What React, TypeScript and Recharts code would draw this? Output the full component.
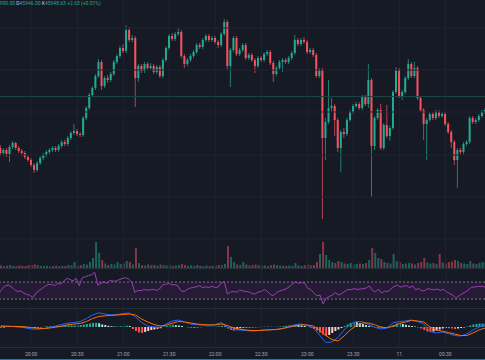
import {
  ComposedChart,
  Bar,
  Line,
  XAxis,
  YAxis,
  ReferenceLine,
  ReferenceArea,
  Cell,
} from "recharts";

// 2-minute candles, first one at 19:40 (t = minutes after 19:00)
const startMinute = 40;
const stepMinutes = 2;
const slotCount = 163; // a few empty slots past the right edge, like the live chart

const opens = [
  45912, 45907, 45910, 45906, 45913, 45917, 45912, 45909, 45907, 45903,
  45900, 45895, 45890, 45897, 45902, 45905, 45908, 45910, 45912, 45910,
  45914, 45918, 45916, 45922, 45927, 45929, 45926, 45925, 45942, 45952,
  45965, 45972, 45984, 45998, 45974, 45982, 45980, 45986, 45998, 46004,
  46012, 46009, 46030, 46020, 46022, 45982, 45994, 45989, 45996, 45992,
  45994, 45988, 45993, 45984, 46000, 46012, 46024, 46021, 46026, 46028,
  46004, 45996, 46000, 46004, 46008, 46015, 46013, 46020, 46024, 46020,
  46022, 46018, 46015, 46026, 46038, 45994, 46010, 46022, 46006, 46010,
  46015, 46002, 46005, 46000, 45994, 46002, 46000, 46006, 46008, 45997,
  45986, 45992, 45998, 46000, 45998, 46002, 46007, 46020, 46016, 46020,
  46018, 46008, 46010, 46005, 45984, 45990, 45922, 45938, 45952, 45954,
  45940, 45912, 45928, 45926, 45940, 45948, 45954, 45956, 45952, 45963,
  45956, 45980, 45914, 45942, 45950, 45912, 45935, 45924, 45932, 45968,
  45990, 45964, 45968, 45982, 45996, 45984, 45992, 45962, 45950, 45936,
  45940, 45946, 45942, 45948, 45944, 45946, 45936, 45928, 45918, 45900,
  45910, 45908, 45916, 45918, 45942, 45938, 45940, 45944, 45948,
];

const highs = [
  45915, 45912, 45912, 45915, 45919, 45918, 45914, 45911, 45909, 45905,
  45902, 45897, 45899, 45904, 45907, 45910, 45912, 45914, 45914, 45916,
  45920, 45920, 45924, 45929, 45936, 45931, 45928, 45944, 45954, 45967,
  45974, 45986, 46001, 46000, 45984, 45985, 45988, 46000, 46006, 46014,
  46016, 46035, 46033, 46025, 46024, 45996, 45996, 45998, 45998, 45997,
  45996, 45995, 45995, 46002, 46014, 46026, 46027, 46028, 46032, 46030,
  46006, 46002, 46006, 46010, 46017, 46017, 46022, 46026, 46026, 46024,
  46024, 46020, 46028, 46041, 46040, 46012, 46024, 46024, 46012, 46017,
  46017, 46007, 46007, 46002, 46004, 46004, 46008, 46010, 46010, 45999,
  45994, 46000, 46002, 46002, 46004, 46009, 46025, 46022, 46022, 46023,
  46020, 46012, 46012, 46007, 45992, 45992, 45942, 45980, 45962, 45956,
  45942, 45930, 45932, 45942, 45950, 45956, 45958, 45958, 45965, 45965,
  45996, 45982, 45944, 45952, 45956, 45937, 45955, 45934, 45970, 45993,
  45992, 45970, 45984, 46001, 45998, 45998, 45994, 45964, 45952, 45942,
  45948, 45948, 45950, 45950, 45948, 45948, 45938, 45930, 45920, 45912,
  45912, 45918, 45920, 45944, 45944, 45942, 45946, 45950, 45952,
];

const lows = [
  45904, 45904, 45903, 45898, 45911, 45910, 45907, 45904, 45901, 45898,
  45893, 45887, 45888, 45895, 45900, 45903, 45906, 45908, 45908, 45908,
  45912, 45914, 45914, 45920, 45925, 45924, 45923, 45923, 45940, 45950,
  45963, 45970, 45982, 45970, 45972, 45977, 45978, 45984, 45996, 46002,
  46007, 46007, 46018, 46018, 45953, 45978, 45987, 45987, 45990, 45990,
  45986, 45986, 45982, 45982, 45998, 46010, 46019, 46019, 46024, 46002,
  45992, 45994, 45998, 46002, 46006, 46011, 46011, 46018, 46018, 46018,
  46016, 46012, 46013, 46024, 45990, 45973, 46008, 46004, 46004, 46008,
  46000, 46000, 45998, 45987, 45992, 45998, 45998, 46004, 45995, 45978,
  45984, 45990, 45988, 45996, 45996, 46000, 46005, 46014, 46014, 46016,
  46006, 46006, 46003, 45982, 45982, 45841, 45900, 45936, 45948, 45924,
  45908, 45888, 45922, 45924, 45938, 45946, 45952, 45950, 45950, 45954,
  45952, 45863, 45910, 45940, 45910, 45910, 45922, 45919, 45930, 45966,
  45962, 45960, 45966, 45980, 45982, 45982, 45960, 45948, 45920, 45900,
  45938, 45940, 45940, 45942, 45942, 45934, 45926, 45912, 45895, 45872,
  45905, 45906, 45914, 45916, 45936, 45936, 45938, 45942, 45946,
];

const closes = [
  45907, 45910, 45906, 45913, 45917, 45912, 45909, 45907, 45903, 45900,
  45895, 45890, 45897, 45902, 45905, 45908, 45910, 45912, 45910, 45914,
  45918, 45916, 45922, 45927, 45929, 45926, 45925, 45942, 45952, 45965,
  45972, 45984, 45998, 45974, 45982, 45980, 45986, 45998, 46004, 46012,
  46009, 46030, 46020, 46022, 45982, 45994, 45989, 45996, 45992, 45994,
  45988, 45993, 45984, 46000, 46012, 46024, 46021, 46026, 46028, 46004,
  45996, 46000, 46004, 46008, 46015, 46013, 46020, 46024, 46020, 46022,
  46018, 46015, 46026, 46038, 45994, 46010, 46022, 46006, 46010, 46015,
  46002, 46005, 46000, 45994, 46002, 46000, 46006, 46008, 45997, 45986,
  45992, 45998, 46000, 45998, 46002, 46007, 46020, 46016, 46020, 46018,
  46008, 46010, 46005, 45984, 45990, 45922, 45938, 45952, 45954, 45940,
  45912, 45928, 45926, 45940, 45948, 45954, 45956, 45952, 45963, 45956,
  45980, 45914, 45942, 45950, 45912, 45935, 45924, 45932, 45968, 45990,
  45964, 45968, 45982, 45996, 45984, 45992, 45962, 45950, 45936, 45940,
  45946, 45942, 45948, 45944, 45946, 45936, 45928, 45918, 45900, 45910,
  45908, 45916, 45918, 45942, 45938, 45940, 45944, 45948, 45950,
];

const volumes = [
  25, 18, 22, 30, 20, 18, 26, 22, 20, 28,
  30, 35, 28, 20, 18, 22, 16, 20, 24, 18,
  22, 20, 30, 26, 60, 22, 28, 40, 35, 60,
  100, 260, 150, 80, 45, 30, 40, 35, 60, 40,
  45, 70, 60, 35, 200, 50, 30, 25, 35, 28,
  30, 22, 35, 30, 25, 28, 20, 25, 30, 40,
  30, 22, 25, 20, 30, 22, 18, 25, 20, 22,
  25, 30, 28, 40, 220, 110, 60, 35, 30, 60,
  35, 25, 30, 35, 28, 22, 25, 20, 30, 35,
  28, 25, 22, 20, 25, 22, 50, 25, 20, 28,
  35, 28, 30, 60, 140, 260, 130, 80, 60, 50,
  70, 60, 45, 40, 50, 35, 40, 45, 40, 50,
  80, 200, 150, 100, 90, 60, 50, 45, 140, 70,
  60, 40, 45, 50, 45, 35, 50, 60, 100, 55,
  45, 50, 40, 140, 55, 45, 60, 65, 80, 70,
  50, 45, 40, 70, 45, 40, 50, 60, 55,
];

const rsiValues = [
  44.2, 53.6, 60.7, 63, 59, 52.5, 47.8, 49, 44.2, 40.7,
  38.8, 33.2, 44.2, 50.1, 54.8, 60.7, 64.2, 64.7, 61.4, 67,
  65.4, 72.5, 78.8, 76, 72.5, 78.8, 61.4, 80.2, 82.3, 85.4,
  87, 92.9, 63, 67, 70.8, 67, 73.6, 72, 72.5, 76,
  78.3, 80.2, 77.2, 70.1, 45.9, 50.1, 49.7, 52.5, 51.3, 51.3,
  53, 50.1, 53.6, 63, 64.2, 67, 63, 64.2, 60.7, 49,
  47.8, 52.5, 56, 57.2, 59, 61.4, 56.7, 58.8, 57.2, 60.2,
  57.2, 58.4, 67.8, 70.8, 41.9, 46.6, 48.2, 45.9, 51.3, 49,
  47.8, 46.6, 43, 41.9, 46.6, 47.8, 52.5, 47.8, 40, 38.4,
  45.9, 49, 51.3, 54.1, 58.4, 65.4, 70.8, 67, 68.9, 67.8,
  55.3, 52.5, 44.2, 37.2, 39.5, 18.4, 31.8, 36, 39.5, 45,
  39.5, 42.4, 47.8, 52.5, 52, 54.4, 52.5, 53.6, 54.1, 56,
  60.7, 50.1, 47.3, 53, 44.2, 49, 47.8, 53.6, 59.5, 63,
  58.4, 59.5, 61.9, 57.2, 60.7, 51.3, 55.3, 49, 50.1, 54.8,
  52.5, 51.8, 53.6, 50.1, 53, 47.1, 43, 39.5, 31.8, 37.2,
  42.4, 46.1, 51.3, 57.2, 58.4, 59.5, 60, 59, 58,
];

// MACD and signal sampled on every second candle
const macdLine = [
  1.2, 0.8, 0.5, 0.2, -0.8, -2, -2.2, -1.6, -0.3, 1,
  2.5, 3.8, 4.5, 5.5, 8.5, 12, 14.2, 13, 12, 12.5,
  13.5, 14, 10, 4.5, 1, 0, -0.3, 3, 6, 7,
  5, 3, 2.3, 2, 2, 2.5, 4.3, 0, -2.8, -3,
  -3.5, -4, -3.6, -3, -2.8, -2.5, -1.5, 0.5, 2.3, 3,
  1.5, -0.8, -8, -15.5, -15, -10.5, -3, 3, 5.5, 5.3,
  2.5, -0.3, -2, -1, 4.3, 5.5, 6, 7, 5.5, 3,
  -4.5, -6, -5, -6.5, -8.5, -9, -7, -3, 0, 2,
];

const signalLine = [
  0.7, 0.7, 0.6, 0.5, 0.2, -0.6, -1.2, -1.5, -1, -0.2,
  0.8, 2.2, 3, 3.6, 5.5, 8.5, 10.5, 11.2, 11.6, 12,
  12.5, 13, 12, 8, 5, 2.5, 1, 1.8, 3.8, 5.5,
  5, 4, 3, 2.3, 2, 2.1, 3, 1.5, -1, -2.2,
  -3, -3.5, -3.5, -3.2, -2.8, -2.4, -1.5, -0.2, 1.2, 2.2,
  2, 1, -3, -8.5, -12.5, -14, -9, -3, 1.5, 4,
  4, 2.2, 0, -0.8, 0.8, 3.5, 5, 6.5, 6, 5,
  0, -3, -4.2, -5.5, -7, -8.5, -8.5, -6, -3, -1,
];

const histogram = [
  -0.8, -0.5, 0.5, 0.8, 0.5, -0.3, -0.5, -0.8, -1, -1.2,
  -1.2, -1, -0.6, -0.3, 0.3, 0.6, 0.8, 1, 1, 1.2,
  1.2, 1.3, 1.5, 1.5, 1.5, 1.8, 2, 2.5, 3, 3.5,
  4, 4.2, 3.8, 2.5, 2, 1.2, 0.8, 0.5, 0.5, 0.8,
  1, 1.2, 1, -2, -4, -5.5, -6, -5, -4, -3,
  -2.5, -1.8, -1.2, 0.5, 1.2, 2, 2.2, 1.8, 1.5, 1,
  0, -0.5, -0.8, -0.6, -0.4, -0.2, 0.2, 0.3, 0.2, 0.3,
  0.5, 0.8, 1.2, 1.5, -1.5, -3, -3.5, -2.2, -1.2, -0.8,
  -0.6, -0.5, -0.4, -0.3, -0.2, 0.2, 0.3, 0.2, 0.2, 0.1,
  0.3, 0.5, 0.8, 1.2, 1.6, 2, 2.2, 2, 1.5, 1,
  0.2, -0.8, -2, -3.5, -5.5, -7.5, -9, -8, -6, -4,
  -2.5, -1, 1, 2.5, 4, 5, 4.8, 4, 3, 2,
  1.2, 0.5, -0.5, -1, -1.2, -0.8, -0.3, 0.5, 2, 3.5,
  3.8, 3, 2.2, 1.5, 1, 0.5, -0.5, -1.5, -3, -4.5,
  -5, -4.5, -3.5, -2.5, -1.5, -1, -1.2, -1.5, -2, -1.5,
  -1, -0.5, 0.5, 1.5, 2.5, 3, 3.5, 3.5, 3.5,
];

const gridTimes = [60, 90, 120, 150, 180, 210, 240, 270, 300, 330, 360];
const priceGrid = [46032, 45990, 45948, 45905, 45863, 45821];
const prevClose = 45963.5;

const BG = "#161a25";
const GRID = "#1f2330";
const UP = "#22ab94";
const DOWN = "#f7525f";
const FONT = "Roboto, 'Noto Sans', sans-serif";
const W = 500;
const SHIFT = -1.4;

const rows = Array.from({ length: slotCount }, (_, i) => {
  const t = startMinute + stepMinutes * i;
  const macd = i % 2 === 0 ? macdLine[i / 2] ?? null : null;
  const signal = i % 2 === 0 ? signalLine[i / 2] ?? null : null;
  if (i >= closes.length) return { t, macd, signal };
  return {
    t,
    open: opens[i],
    high: highs[i],
    low: lows[i],
    close: closes[i],
    range: [lows[i], highs[i]],
    up: closes[i] >= opens[i],
    vol: volumes[i],
    rsi: rsiValues[i],
    hist: histogram[i],
    macd,
    signal,
  };
});

function histColor(i: number) {
  const h = histogram[i];
  const prev = i > 0 ? histogram[i - 1] : h;
  if (h >= 0) return h >= prev ? "#26a69a" : "#b2dfdb";
  return h <= prev ? "#ff5252" : "#ffcdd2";
}

function timeLabel(t: number) {
  const m = t % 60;
  const h = (19 + Math.floor(t / 60)) % 24;
  if (m !== 0 && m !== 30) return "";
  if (h === 0 && m === 0) return "11";
  return `${String(h).padStart(2, "0")}:${m === 0 ? "00" : "30"}`;
}

function Candle(props: any) {
  const { x, y, width, height, payload } = props;
  if (!payload || payload.close == null) return null;
  const { open, close, high, low } = payload;
  const h = Math.abs(height);
  const top = Math.min(y, y + height);
  const k = high > low ? h / (high - low) : 0;
  const cx = x + width / 2;
  const color = close >= open ? UP : DOWN;
  const bodyTop = top + (high - Math.max(open, close)) * k;
  const bodyH = Math.max(1, Math.abs(open - close) * k);
  return (
    <g>
      <line x1={cx} x2={cx} y1={top} y2={top + h} stroke={color} strokeWidth={0.7} />
      <rect x={cx - 1} y={bodyTop} width={2} height={bodyH} fill={color} />
    </g>
  );
}

const vLines = gridTimes.map((t) => (
  <ReferenceLine key={t} x={t} stroke={GRID} strokeWidth={1} />
));

const abs = (top: number, height: number) => ({
  position: "absolute" as const,
  left: SHIFT,
  top,
  width: W,
  height,
});

const hr = (top: number, color: string) => (
  <div style={{ position: "absolute", left: 0, top, width: 485, height: 1, background: color }} />
);

export default function App() {
  return (
    <div
      style={{
        position: "absolute",
        left: 0,
        top: 0,
        width: 485,
        height: 360,
        overflow: "hidden",
        background: BG,
        fontFamily: FONT,
      }}
    >
      {/* volume sits under the candles in the price pane */}
      <div style={abs(0, 268)}>
        <ComposedChart width={W} height={268} data={rows} margin={{ top: 0, right: 0, bottom: 0, left: 0 }}>
          <XAxis dataKey="t" type="category" hide />
          <YAxis domain={[0, 2680]} hide allowDataOverflow />
          {vLines}
          <Bar dataKey="vol" barSize={2} isAnimationActive={false}>
            {rows.map((r: any, i) => (
              <Cell key={i} fill={r.up ? "rgba(34,171,148,0.5)" : "rgba(247,82,95,0.5)"} />
            ))}
          </Bar>
        </ComposedChart>
      </div>

      <div style={abs(0, 268)}>
        <ComposedChart width={W} height={268} data={rows} margin={{ top: 0, right: 0, bottom: 0, left: 0 }}>
          <XAxis dataKey="t" type="category" hide />
          <YAxis domain={[45792, 46060]} hide allowDataOverflow />
          {priceGrid.map((p) => (
            <ReferenceLine key={p} y={p} stroke={GRID} />
          ))}
          <ReferenceLine y={prevClose} stroke="#1b4444" />
          <Bar dataKey="range" shape={<Candle />} isAnimationActive={false} />
        </ComposedChart>
      </div>

      <div style={abs(268, 40)}>
        <ComposedChart width={W} height={40} data={rows} margin={{ top: 0, right: 0, bottom: 0, left: 0 }}>
          <XAxis dataKey="t" type="category" hide />
          <YAxis domain={[9, 103]} hide allowDataOverflow />
          {vLines}
          <ReferenceArea y1={30} y2={70} fill="#9c27b0" fillOpacity={0.12} stroke="none" />
          <ReferenceLine y={70} stroke="#787b86" strokeDasharray="2 2" />
          <ReferenceLine y={30} stroke="#787b86" strokeDasharray="2 2" />
          <Line dataKey="rsi" stroke="#9b3fb5" strokeWidth={1} dot={false} isAnimationActive={false} />
        </ComposedChart>
      </div>

      <div style={abs(308, 52)}>
        <ComposedChart width={W} height={52} data={rows} margin={{ top: 0, right: 0, bottom: 0, left: 0 }}>
          <XAxis
            dataKey="t"
            type="category"
            interval={0}
            height={13}
            tickLine={false}
            axisLine={false}
            tickSize={3}
            tickMargin={2}
            tick={{ fontSize: 5, fill: "#a3a6af", fontFamily: FONT }}
            tickFormatter={timeLabel}
          />
          <YAxis domain={[-20, 19]} hide allowDataOverflow />
          {vLines}
          <Bar dataKey="hist" barSize={2} isAnimationActive={false}>
            {rows.map((r: any, i) => (
              <Cell key={i} fill={r.hist == null ? "none" : histColor(i)} />
            ))}
          </Bar>
          <Line dataKey="macd" stroke="#2962ff" strokeWidth={1} dot={false} connectNulls isAnimationActive={false} />
          <Line dataKey="signal" stroke="#ff6d00" strokeWidth={1} dot={false} connectNulls isAnimationActive={false} />
        </ComposedChart>
      </div>

      {hr(268, "#2a2e39")}
      {hr(308, "#2a2e39")}
      {hr(347, "#2a2e39")}
      {hr(359, "#2962ff")}

      <div
        style={{
          position: "absolute",
          left: -9,
          top: 0,
          fontSize: 5,
          lineHeight: "6px",
          whiteSpace: "nowrap",
          color: UP,
        }}
      >
        <span style={{ color: "#d1d4dc" }}>Y</span>45990.00{" "}
        <span style={{ color: "#d1d4dc" }}>D</span>45946.00{" "}
        <span style={{ color: "#d1d4dc" }}>K</span>45948.63 +2.63 (+0.01%)
      </div>
    </div>
  );
}
